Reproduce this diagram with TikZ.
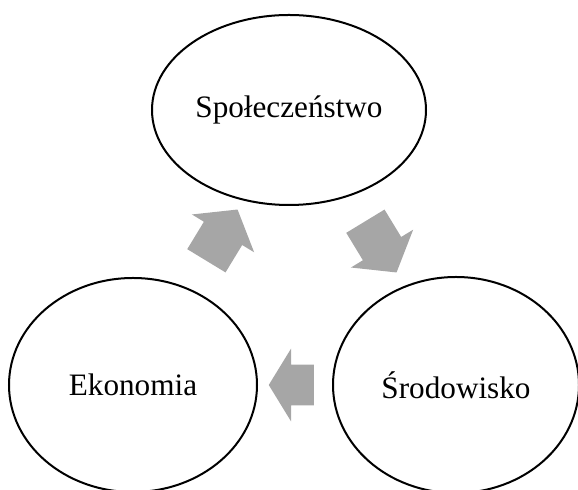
\documentclass[tikz,border=0pt]{standalone}
\usepackage{fontspec}
\setmainfont{Liberation Serif}
\usepackage{tikz}
\usetikzlibrary{shapes.geometric,shapes.arrows,positioning}
\definecolor{arrowgray}{RGB}{166,166,166}

\begin{document}
\begin{tikzpicture}[x=0.5pt,y=-0.5pt,
    pillar/.style={draw,ellipse,line width=1pt,inner sep=0pt,
      font=\fontsize{15.6}{18}\selectfont},
    blockarrow/.style={single arrow,fill=arrowgray,draw=none,inner xsep=0pt,
      single arrow head extend=7pt,single arrow tip angle=105}]
  \useasboundingbox (0,0) rectangle (578,490);
  \clip (0,0) rectangle (578,490);
  \node[pillar,minimum width=137pt,minimum height=95pt] (spol) at (289,110) {Społeczeństwo};
  \node[pillar,minimum width=124pt,minimum height=107pt] (eko) at (133,385) {Ekonomia};
  \node[pillar,minimum width=123pt,minimum height=108pt] (srod) at (456,385) {Środowisko};
  % strzalki cyklu
  \node[blockarrow,inner ysep=11pt,minimum height=30pt,rotate=58.7] (a1) at (217.5,242.5) {};
  \node[blockarrow,inner ysep=11pt,minimum height=30pt,rotate=-58.7] (a2) at (376.5,239.5) {};
  \node[blockarrow,inner ysep=10pt,minimum height=22.5pt,rotate=180,
    single arrow head extend=8pt,single arrow tip angle=117] (a3) at (297.5,385) {};
\end{tikzpicture}
\end{document}
